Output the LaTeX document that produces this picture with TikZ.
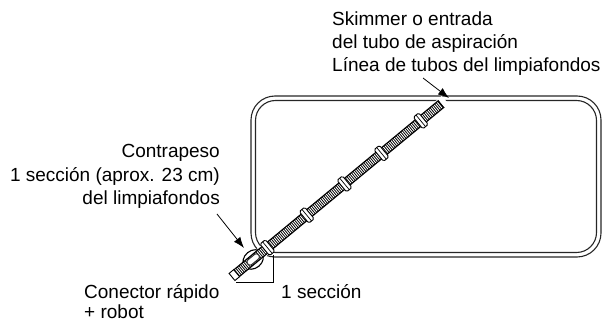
\documentclass[tikz,border=0pt]{standalone}
\usepackage{fontspec}
\setmainfont{Liberation Sans}
\usetikzlibrary{arrows.meta}
\tikzset{
  lbl/.style={inner sep=0pt,font=\fontsize{19}{23.2}\selectfont},
  lbltight/.style={lbl,font=\fontsize{19}{20}\selectfont},
  wall/.style={draw=black!85,line width=1.1pt,rounded corners=24pt},
  lead/.style={draw=black,line width=0.8pt},
  arr/.style={lead,-{Latex[length=11pt,width=8pt]}},
  coupling/.style={draw=black,fill=white,line width=0.9pt,rounded corners=1.5pt}
}
\begin{document}
\begin{tikzpicture}[x=1pt,y=-1pt]
\useasboundingbox (0,0) rectangle (611,320);
% pool walls
\draw[wall] (251,96) rectangle (601,257);
\draw[wall,rounded corners=20pt] (255.5,100.5) rectangle (596.5,252.5);
% hose
\coordinate (hoseA) at (232,277);
\coordinate (hoseB) at (446,100);
\begin{scope}[shift={(232,277)},rotate=39.6]
  \fill[white] (-2,-5.8) rectangle (277,5.8);
  \draw[black,line width=0.9pt,fill=white] (0,-4.6) rectangle (6,4.6);
  \fill[black] (6,-4.9) rectangle (272,4.9);
  \foreach \s in {7.5,9.5,...,271}{\draw[white,line width=0.9pt] (\s,-3.6) -- (\s,3.6);}
  \fill[white] (272,-4.6) rectangle (277,4.6);
  % couplings
  \foreach \p in {46,97,146,194,245}{
    \draw[coupling] (\p-3.5,-7.5) rectangle (\p+3.5,7.5);
    \draw[black,line width=0.7pt] (\p,-7.5) -- (\p,7.5);
  }
  % counterweight
  \draw[black,line width=1.1pt,fill=white] (27.5,0) ellipse (11 and 8.8);
  \fill[black] (17,-4.9) rectangle (38,4.9);
  \foreach \s in {17.5,19.5,...,38}{\draw[white,line width=0.9pt] (\s,-3.6) -- (\s,3.6);}
  \draw[black!80,line width=1pt,fill=white,rounded corners=2.5pt] (20.5,-3) rectangle (34.5,3);
\end{scope}
% labels
\node[lbl,anchor=north west,align=left] (skim) at (332,11.5) {Skimmer o entrada\\del tubo de aspiración\\Línea de tubos del limpiafondos};
\node[lbl,anchor=north east,align=right] (contra) at (220,144.5) {Contrapeso\\1 sección (aprox. 23 cm)\\del limpiafondos};
\node[lbltight,anchor=north west,align=left] (conec) at (84,284.5) {Conector rápido\\+ robot};
\node[lbl,anchor=north west] (secc) at (281,284.5) {1 sección};
% leaders
\coordinate (a1) at (217,214);
\coordinate (a1t) at (244,248);
\coordinate (a2) at (423,78);
\coordinate (a2t) at (449,98);
\coordinate (b1) at (236,282);
\coordinate (b2) at (273,282);
\coordinate (b3) at (273,255);
\draw[arr] (a1) -- (a1t);
\draw[arr] (a2) -- (a2t);
\draw[lead] (b1) -- (b2) -- (b3);
\end{tikzpicture}
\end{document}
